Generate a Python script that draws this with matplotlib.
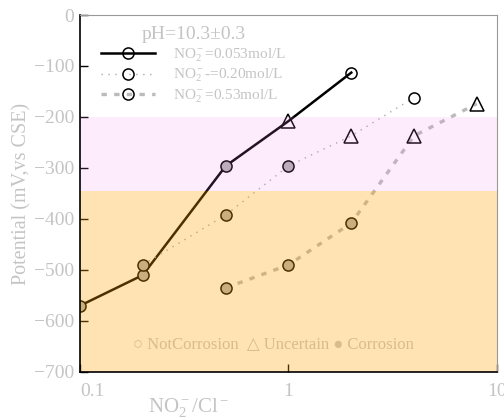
import matplotlib
matplotlib.use("Agg")
import matplotlib.pyplot as plt
import numpy as np

plt.rcParams['font.family'] = ['Liberation Serif', 'DejaVu Serif']
plt.rcParams['mathtext.fontset'] = 'custom'
plt.rcParams['mathtext.rm'] = 'Liberation Serif'
plt.rcParams['mathtext.it'] = 'Liberation Serif:italic'
plt.rcParams['axes.unicode_minus'] = True

# data (N = not corrosion, U = uncertain, C = corrosion)
x_053 = [0.1, 0.2, 0.5, 1, 2]
y_053 = [-570, -510, -296, -208, -113]
s_053 = ['C', 'C', 'C', 'U', 'N']

x_020 = [0.2, 0.5, 1, 2, 4]
y_020 = [-490, -392, -296, -237, -162]
s_020 = ['C', 'C', 'C', 'U', 'N']

x_053b = [0.5, 1, 2, 4, 8]
y_053b = [-535, -490, -408, -237, -174]
s_053b = ['C', 'C', 'C', 'U', 'U']

labels = ["NO$_2^-$=0.053mol/L", "NO$_2^-$-=0.20mol/L", "NO$_2^-$=0.53mol/L"]

light = '#c4c4c4'

fig = plt.figure(figsize=(5.04, 4.19), dpi=100)
ax = fig.add_axes([0.1587, 0.1122, 0.8274, 0.852])

styles = [dict(color='black', ls='-', lw=1.8),
          dict(color='#aaaaaa', ls=(0, (1, 4)), lw=1.0),
          dict(color='#bbbbbb', ls=(0, (1.6, 2.2)), lw=2.4)]

handles = []
for xs, ys, ss, st, lab in zip([x_053, x_020, x_053b], [y_053, y_020, y_053b],
                               [s_053, s_020, s_053b], styles, labels):
    ax.plot(xs, ys, zorder=2, **st)
    for xv, yv, sv in zip(xs, ys, ss):
        if sv == 'C':
            ax.plot(xv, yv, marker='o', ms=8, mfc='#b4b4b4', mec='black', mew=1.1, ls='none', zorder=2.1)
        elif sv == 'U':
            ax.plot(xv, yv, marker='^', ms=10, mfc='none', mec='black', mew=1.1, ls='none', zorder=2.1)
        else:
            ax.plot(xv, yv, marker='o', ms=8, mfc='none', mec='black', mew=1.1, ls='none', zorder=2.1)
    h, = ax.plot([], [], marker='o', ms=8, mfc='none', mec='black', mew=1.1, **st)
    handles.append(h)

# regions
ax.axhspan(-345, -200, color='violet', alpha=0.15, lw=0, zorder=2.2)
ax.axhspan(-700, -345, color='orange', alpha=0.3, lw=0, zorder=2.2)

ax.text(0.127, 0.075, "○ NotCorrosion  △ Uncertain ● Corrosion", transform=ax.transAxes,
        color='#c8c8c8', fontsize=12, ha='left', va='center', zorder=1,
        family=['Liberation Serif', 'DejaVu Sans'])

ax.set_xscale('log')
ax.set_xlim(0.1, 10)
ax.set_ylim(-700, 0)
ax.set_xticks([0.1, 1, 10])
ax.set_xticklabels(['0.1', '1', '10'])
ax.xaxis.set_minor_locator(matplotlib.ticker.NullLocator())
ax.set_yticks(np.arange(-700, 1, 100))
ax.tick_params(direction='in', length=6, width=1, labelsize=14, labelcolor=light)
ax.tick_params(axis='x', pad=8)
ax.tick_params(axis='y', pad=4)
ax.get_xticklabels()[0].set_ha('left')

for side in ['top', 'right']:
    ax.spines[side].set_color('#999999')
for side in ['left', 'bottom']:
    ax.spines[side].set_linewidth(1.2)

ax.set_ylabel("Potential (mV,vs CSE)", color=light, fontsize=14.5, labelpad=2)
ax.set_xlabel("NO$_2^-$/Cl$^-$", color=light, fontsize=15)
ax.xaxis.set_label_coords(0.26, -0.068)

leg = ax.legend(handles, labels, loc='upper left', bbox_to_anchor=(0.025, 1.0), frameon=False,
                fontsize=11, handlelength=3.5, handletextpad=1.2, labelspacing=0.22,
                title="pH=10.3±0.3", title_fontsize=14, labelcolor=light,
                borderaxespad=0.3)
leg.get_title().set_color(light)
leg.set_zorder(5)

fig.savefig("out.png", dpi=100)
